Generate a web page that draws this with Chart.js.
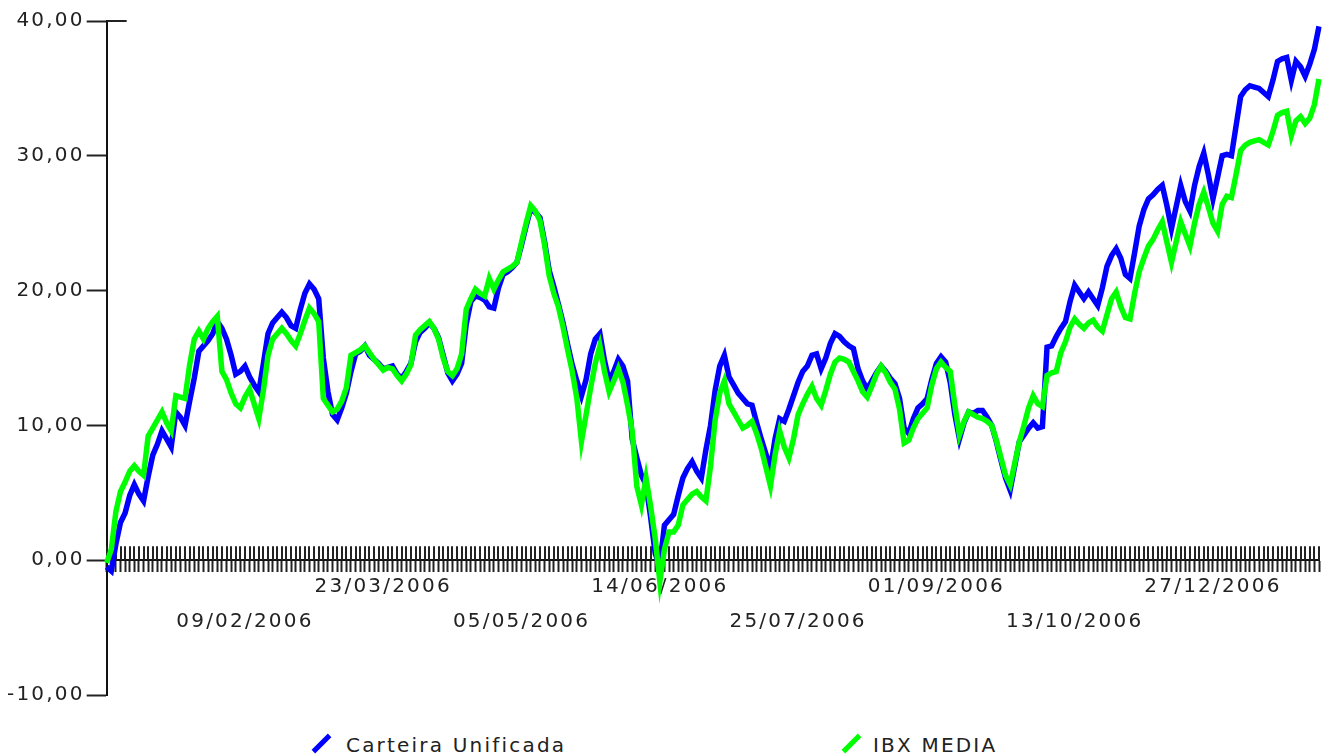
<!DOCTYPE html>
<html>
<head>
<meta charset="utf-8">
<script src="https://cdn.jsdelivr.net/npm/chart.js@4.4.0/dist/chart.umd.min.js"></script>
<style>
body { margin: 0; background: #fff; }
#wrap { position: relative; width: 1327px; height: 755px; overflow: hidden; }
#box { position: absolute; left: 0; top: 0; width: 1327px; height: 725px; }
.leg { position: absolute; top: 735px; font: 20px "DejaVu Sans"; line-height: 20px; letter-spacing: 2.2px; color: #222; white-space: nowrap; }
.ico { position: absolute; top: 732px; width: 5px; height: 23px; transform: rotate(45deg); }
</style>
</head>
<body>
<div id="wrap">
  <div id="box"><canvas id="canvas"></canvas></div>
  <div class="ico" style="left:319px;background:#0000ff"></div>
  <div class="leg" style="left:346px">Carteira Unificada</div>
  <div class="ico" style="left:849px;background:#00ff00"></div>
  <div class="leg" style="left:873px">IBX MEDIA</div>
</div>
<script>
// datas mostradas no eixo x (uma a cada 30 pregoes)
var tickDates = ["09/02/2006", "23/03/2006", "05/05/2006", "14/06/2006", "25/07/2006", "01/09/2006", "13/10/2006", "27/12/2006"];
var tickStep = 30;

// rentabilidade acumulada (%)
var carteira = [
    -0.5, -0.8, 1.2, 2.8, 3.5, 4.8, 5.6, 4.9, 4.4, 6.2,
    7.8, 8.6, 9.6, 9.0, 8.4, 11.0, 10.6, 10.0, 11.8, 13.5,
    15.5, 15.9, 16.3, 16.8, 17.7, 17.2, 16.4, 15.2, 13.8, 14.0,
    14.4, 13.6, 13.0, 12.5, 14.6, 16.8, 17.6, 18.0, 18.4, 18.0,
    17.4, 17.2, 18.6, 19.8, 20.5, 20.1, 19.4, 15.0, 12.5, 10.8,
    10.4, 11.3, 12.4, 14.0, 15.3, 15.5, 15.9, 15.2, 14.9, 14.6,
    14.2, 14.3, 14.4, 13.8, 13.5, 14.0, 14.6, 16.2, 16.9, 17.2,
    17.6, 17.2, 16.5, 15.2, 13.9, 13.3, 13.8, 14.6, 17.5, 19.2,
    19.6, 19.5, 19.3, 18.8, 18.7, 20.2, 21.2, 21.4, 21.7, 22.1,
    23.4, 24.8, 26.1, 25.8, 25.4, 23.6, 21.5, 20.3, 19.0, 17.6,
    16.0, 14.5, 13.3, 12.2, 13.4, 15.3, 16.4, 16.8, 14.8, 13.3,
    14.0, 14.9, 14.4, 13.3, 9.0, 7.6, 6.3, 5.6, 3.2, 0.5,
    -0.4, 2.6, 3.0, 3.4, 4.8, 6.1, 6.8, 7.3, 6.6, 6.1,
    8.2, 10.0, 12.6, 14.4, 15.2, 13.6, 13.0, 12.4, 12.0, 11.6,
    11.5, 10.2, 9.0, 7.9, 6.8, 9.0, 10.5, 10.3, 11.2, 12.2,
    13.2, 14.0, 14.4, 15.2, 15.3, 14.2, 15.0, 16.1, 16.8, 16.6,
    16.2, 15.9, 15.7, 14.2, 13.3, 12.7, 13.3, 13.9, 14.4, 14.0,
    13.5, 13.1, 12.0, 9.8, 9.4, 10.5, 11.3, 11.6, 12.0, 13.4,
    14.6, 15.1, 14.7, 13.2, 10.8, 9.0, 10.2, 11.0, 10.9, 11.1,
    11.1, 10.6, 10.0, 8.8, 7.4, 6.1, 5.2, 7.0, 8.8, 9.3,
    9.8, 10.2, 9.8, 9.9, 15.8, 15.9, 16.6, 17.2, 17.7, 19.2,
    20.4, 19.9, 19.4, 19.9, 19.4, 18.9, 20.2, 21.8, 22.6, 23.1,
    22.4, 21.2, 20.9, 22.8, 24.8, 26.0, 26.8, 27.1, 27.5, 27.8,
    26.3, 24.6, 26.2, 27.8, 26.6, 25.9, 27.8, 29.2, 30.2, 28.6,
    26.8, 28.4, 30.0, 30.1, 30.0, 32.2, 34.4, 34.9, 35.2, 35.1,
    35.0, 34.7, 34.4, 35.6, 37.0, 37.2, 37.3, 35.6, 37.0, 36.6,
    35.9, 36.8, 37.9, 39.6
];
var ibx = [
    -0.2, 0.8, 3.6, 5.1, 5.8, 6.6, 7.0, 6.6, 6.3, 9.2,
    9.8, 10.4, 11.0, 10.2, 9.6, 12.2, 12.1, 12.0, 14.5, 16.4,
    17.0, 16.4, 17.2, 17.7, 18.1, 14.0, 13.4, 12.4, 11.6, 11.3,
    12.1, 12.7, 11.6, 10.5, 12.6, 15.2, 16.4, 16.8, 17.2, 16.8,
    16.3, 15.9, 16.8, 17.8, 18.7, 18.3, 17.7, 12.0, 11.5, 11.0,
    11.2, 11.8, 12.8, 15.2, 15.4, 15.6, 15.9, 15.4, 14.9, 14.5,
    14.1, 14.3, 14.2, 13.7, 13.3, 13.8, 14.5, 16.7, 17.1, 17.4,
    17.7, 17.2, 16.4, 15.0, 14.0, 13.7, 14.2, 15.3, 18.6, 19.4,
    20.1, 19.8, 19.6, 20.9, 20.1, 20.8, 21.4, 21.6, 21.8, 22.1,
    23.6, 25.0, 26.3, 25.9, 25.2, 23.4, 21.1, 19.8, 18.8, 17.3,
    15.6, 14.0, 12.0, 8.8, 10.8, 12.8, 14.6, 15.9, 14.0, 12.5,
    13.3, 14.2, 13.2, 11.5, 9.6, 5.5, 4.1, 6.1, 4.0, 1.6,
    -1.6, 0.8, 2.1, 2.1, 2.6, 4.1, 4.5, 4.9, 5.1, 4.7,
    4.4, 7.0, 10.4, 12.4, 13.3, 11.6, 11.0, 10.4, 9.8, 10.0,
    10.3, 9.4, 8.3, 6.9, 5.5, 7.8, 9.6, 8.4, 7.6, 9.0,
    10.8, 11.6, 12.3, 12.9, 12.0, 11.5, 12.6, 13.8, 14.7, 15.0,
    14.9, 14.7, 14.0, 13.3, 12.5, 12.1, 12.9, 13.8, 14.4, 13.9,
    13.2, 12.7, 11.2, 8.7, 8.9, 9.8, 10.5, 10.9, 11.3, 13.0,
    14.2, 14.7, 14.3, 14.0, 11.5, 9.3, 10.3, 11.0, 10.8, 10.6,
    10.5, 10.3, 10.0, 8.9, 7.6, 6.3, 5.6, 7.2, 8.8, 10.0,
    11.3, 12.2, 11.6, 11.4, 13.7, 13.9, 14.0, 15.4, 16.2, 17.3,
    17.9, 17.5, 17.2, 17.6, 17.8, 17.3, 17.0, 18.2, 19.4, 19.9,
    18.8, 18.0, 17.9, 19.8, 21.4, 22.4, 23.3, 23.8, 24.5, 25.1,
    23.6, 22.1, 23.6, 25.1, 24.2, 23.3, 25.0, 26.4, 27.3, 26.2,
    25.0, 24.4, 26.4, 27.0, 26.9, 28.6, 30.4, 30.8, 31.0, 31.1,
    31.2, 31.0, 30.8, 31.8, 33.0, 33.2, 33.3, 31.5, 32.6, 32.9,
    32.4, 32.8, 33.8, 35.7
];

var labels = carteira.map(function (v, i) {
    return (i > 0 && i % tickStep == 0) ? tickDates[i / tickStep - 1] : "";
});

// espacamento entre letras (o grafico original tem texto largo)
var spacing = {
    id: 'spacing',
    beforeUpdate: function (c) { c.ctx.letterSpacing = '2.2px'; },
    beforeDraw: function (c) { c.ctx.letterSpacing = '2.2px'; }
};

// metade de cima dos riscos do eixo x e o risco do topo do eixo y
var tickMarks = {
    id: 'tickMarks',
    beforeDatasetsDraw: function (chart) {
        var ctx = chart.ctx, x = chart.scales.x, y = chart.scales.y;
        var y0 = y.getPixelForValue(0);
        ctx.save();
        ctx.strokeStyle = '#222';
        ctx.lineWidth = 2;
        ctx.beginPath();
        for (var i = 0; i < x.ticks.length; i++) {
            var px = Math.round(x.getPixelForTick(i));
            ctx.moveTo(px, y0 - 14);
            ctx.lineTo(px, y0);
        }
        var yTop = y.getPixelForValue(y.max);
        ctx.moveTo(x.left, yTop);
        ctx.lineTo(x.left + 20, yTop);
        ctx.stroke();
        ctx.restore();
    }
};

var pChart;
function BindChart(ctx) {
    pChart = new Chart(ctx, {
        type: 'line',
        data: {
            labels: labels,
            datasets: [{
                label: "IBX MEDIA",
                data: ibx,
                borderColor: "#00ff00",
                backgroundColor: "#00ff00",
                borderWidth: 5.5,
                pointRadius: 0,
                tension: 0,
                fill: false
            }, {
                label: "Carteira Unificada",
                data: carteira,
                borderColor: "#0000ff",
                backgroundColor: "#0000ff",
                borderWidth: 5.5,
                pointRadius: 0,
                tension: 0,
                fill: false
            }]
        },
        options: {
            responsive: true,
            maintainAspectRatio: false,
            animation: false,
            layout: { padding: { left: 5, top: 21, right: 8, bottom: 30 } },
            plugins: {
                legend: { display: false },
                tooltip: { enabled: false }
            },
            scales: {
                x: {
                    type: 'category',
                    position: { y: 0 },
                    offset: false,
                    grid: { drawOnChartArea: false, drawTicks: true, tickLength: 11, tickColor: '#222', tickWidth: 2 },
                    border: { display: true, color: '#111', width: 2 },
                    ticks: {
                        autoSkip: false,
                        maxRotation: 0,
                        minRotation: 0,
                        padding: 7,
                        color: '#222',
                        font: { family: 'DejaVu Sans', size: 20, lineHeight: 0.875 },
                        callback: function (v, i) {
                            var s = this.getLabelForValue(v);
                            if (!s) return "";
                            var k = i / tickStep - 1;
                            return (k % 2 == 1) ? s : ["", "", s];
                        }
                    }
                },
                y: {
                    min: -10,
                    max: 40,
                    grid: { drawOnChartArea: false, drawTicks: true, tickLength: 20, tickColor: '#222', tickWidth: 2 },
                    border: { display: true, color: '#111', width: 2 },
                    ticks: {
                        stepSize: 10,
                        padding: 2,
                        color: '#222',
                        font: { family: 'DejaVu Sans', size: 20 },
                        callback: function (v) { return v.toFixed(2).replace('.', ','); }
                    }
                }
            }
        },
        plugins: [spacing, tickMarks]
    });
}

BindChart(document.getElementById("canvas").getContext("2d"));
</script>
</body>
</html>
